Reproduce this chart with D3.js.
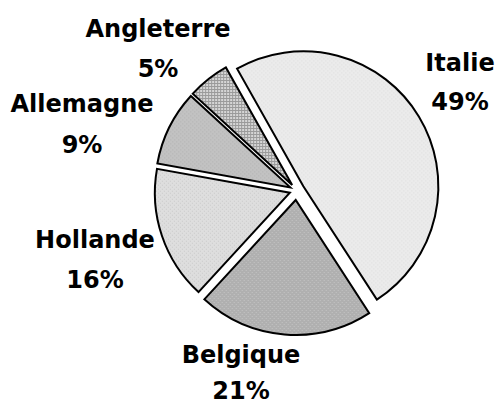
<!DOCTYPE html>
<html><head><meta charset="utf-8">
<script src="https://cdn.jsdelivr.net/npm/d3@7"></script>
<style>html,body{margin:0;padding:0;background:#fff;}</style>
</head><body>
<script>
const categories = ["Italie","Belgique","Hollande","Allemagne","Angleterre"];
const values = [49,21,16,9,5];
const valueLabels = ["49%","21%","16%","9%","5%"];

const W = 498, H = 405;
const cx = 296.5, cy = 190.5, R = 135;
const startDeg = -29.4;
const explode = [8, 9.5, 7, 7, 7];
const fills = ["#ebebeb","#b0b0b0","#dedede","#c2c2c2","#d6d6d6"];
const dots = ["#dcdcdc","#c4c4c4","#c8c8c8","#b0b0b0","#9a9a9a"];
const labelPos = [[460,71,110],[241,363,399],[95,248,288],[82,112,153],[158,37,77]];

const svg = d3.select("body").append("svg").attr("width",W).attr("height",H);
const defs = svg.append("defs");
categories.forEach((c,i)=>{
  const p = defs.append("pattern").attr("id","p"+i).attr("patternUnits","userSpaceOnUse")
    .attr("width",i===4?3:4).attr("height",i===4?3:4);
  p.append("rect").attr("width",4).attr("height",4).attr("fill",fills[i]);
  if(i===4){
    p.append("rect").attr("x",0).attr("y",0).attr("width",3).attr("height",1).attr("fill",dots[i]);
    p.append("rect").attr("x",0).attr("y",0).attr("width",1).attr("height",3).attr("fill",dots[i]);
  } else {
    p.append("rect").attr("x",0).attr("y",0).attr("width",1).attr("height",1).attr("fill",dots[i]);
    p.append("rect").attr("x",2).attr("y",2).attr("width",1).attr("height",1).attr("fill",dots[i]);
  }
});

const pie = d3.pie().sort(null).value(d=>d)
  .startAngle(startDeg*Math.PI/180).endAngle(startDeg*Math.PI/180+2*Math.PI);
const arcs = pie(values);
const arc = d3.arc().innerRadius(0).outerRadius(R);

svg.append("g").selectAll("path").data(arcs).join("path")
  .attr("d",arc)
  .attr("transform",(d,i)=>{
    const a=(d.startAngle+d.endAngle)/2;
    return `translate(${cx+explode[i]*Math.sin(a)},${cy-explode[i]*Math.cos(a)})`;
  })
  .attr("fill",(d,i)=>`url(#p${i})`)
  .attr("stroke","#000").attr("stroke-width",2).attr("stroke-linejoin","miter");

const lg = svg.append("g").attr("font-family","'DejaVu Sans', sans-serif")
  .attr("font-size",24).attr("font-weight","bold").attr("fill","#000").attr("text-anchor","middle");
categories.forEach((c,i)=>{
  lg.append("text").attr("x",labelPos[i][0]).attr("y",labelPos[i][1]).text(c);
  lg.append("text").attr("x",labelPos[i][0]).attr("y",labelPos[i][2]).text(valueLabels[i]);
});
</script>
</body></html>
